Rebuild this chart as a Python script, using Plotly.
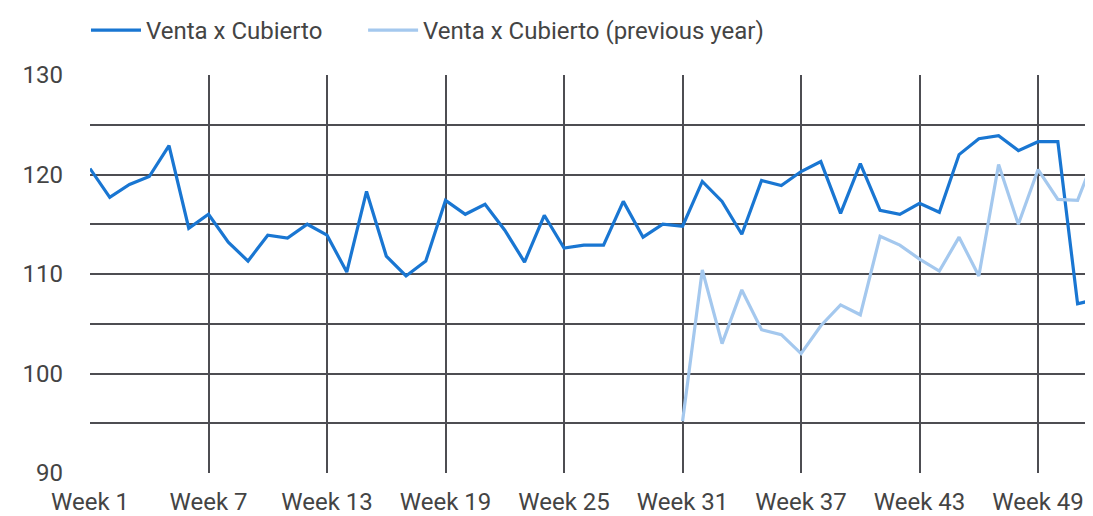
import plotly.graph_objects as go

weeks = list(range(1, 53))
venta = [120.6, 117.7, 119.0, 119.8, 122.9, 114.6, 116.0, 113.2, 111.3, 113.9,
         113.6, 115.0, 113.9, 110.2, 118.3, 111.8, 109.8, 111.3, 117.4, 116.0,
         117.0, 114.4, 111.2, 115.9, 112.6, 112.9, 112.9, 117.3, 113.7, 115.0,
         114.8, 119.3, 117.3, 114.0, 119.4, 118.9, 120.3, 121.3, 116.1, 121.1,
         116.4, 116.0, 117.1, 116.2, 122.0, 123.6, 123.9, 122.4, 123.3, 123.3,
         107.0, 107.5]
venta_prev = [None] * 30 + [95.2, 110.4, 103.0, 108.4, 104.4, 103.9, 102.0, 104.8,
                            106.9, 105.9, 113.8, 112.9, 111.5, 110.3, 113.7, 109.8,
                            121.0, 115.0, 120.5, 117.5, 117.4, 122.5]

series_names = ["Venta x Cubierto", "Venta x Cubierto (previous year)"]
xtick_vals = [1, 7, 13, 19, 25, 31, 37, 43, 49]
xtick_text = ["Week 1", "Week 7", "Week 13", "Week 19", "Week 25", "Week 31",
              "Week 37", "Week 43", "Week 49"]
ytick_vals = [90, 95, 100, 105, 110, 115, 120, 125, 130]
ytick_text = ["90", "", "100", "", "110", "", "120", "", "130"]

FONT = "Roboto"
TXT = "#444444"
GRID = "#4d4d52"
PAD = "\u00a0" * 6  # extra spacing between the two legend entries

fig = go.Figure()
fig.add_trace(go.Scatter(x=weeks, y=venta, mode="lines", name=series_names[0] + PAD,
                         line=dict(color="#1976d2", width=3.2)))
fig.add_trace(go.Scatter(x=weeks, y=venta_prev, mode="lines",
                         name=series_names[1],
                         line=dict(color="#a4c8ee", width=3.2)))

# the page body has an 8px margin, so the figure is sized to fit the window
fig.update_layout(
    width=1085, height=508,
    margin=dict(l=82, r=0, t=67, b=35),
    paper_bgcolor="white", plot_bgcolor="white",
    font=dict(family=FONT, color=TXT),
    showlegend=True,
    legend=dict(orientation="h", x=-0.004, xanchor="left", y=1.113, yanchor="middle",
                font=dict(size=24, color=TXT, family=FONT),
                itemwidth=50,
                traceorder="normal", bgcolor="rgba(0,0,0,0)"),
    xaxis=dict(range=[1, 51.78], tickvals=xtick_vals, ticktext=xtick_text,
               showgrid=True, gridcolor=GRID, gridwidth=2, zeroline=False,
               showline=False, ticks="", tickfont=dict(size=24, color=TXT, family=FONT),
               ticklabelstandoff=12),
    yaxis=dict(range=[90, 130], tickvals=ytick_vals, ticktext=ytick_text,
               showgrid=True, gridcolor=GRID, gridwidth=2, zeroline=False,
               showline=False, ticks="", tickfont=dict(size=24, color=TXT, family=FONT),
               ticklabelstandoff=26),
)

fig.write_html("out.html")
